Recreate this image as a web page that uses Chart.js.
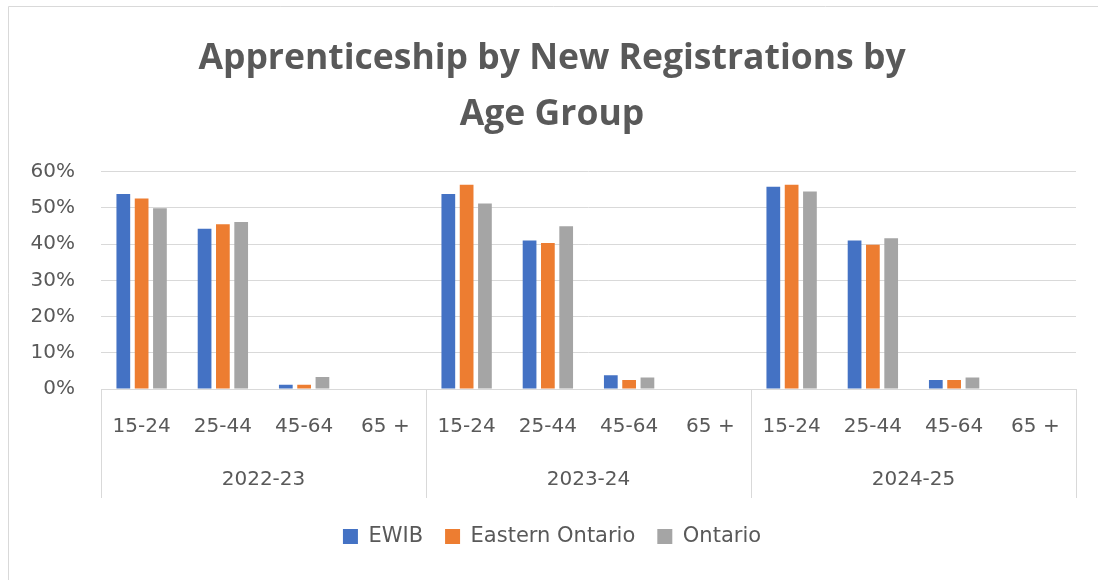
<!DOCTYPE html>
<html>
<head>
<meta charset="utf-8">
<script src="https://cdn.jsdelivr.net/npm/chart.js@4"></script>
<style>
  html, body { margin: 0; padding: 0; background: #fff; }
  #container { width: 1098px; height: 580px; }
</style>
</head>
<body>
<div id="container"><canvas id="chart" width="1098" height="580"></canvas></div>
<script>
"use strict";

const ageGroups = ['15-24', '25-44', '45-64', '65 +', '15-24', '25-44', '45-64', '65 +', '15-24', '25-44', '45-64', '65 +'];
const years = ['2022-23', '2023-24', '2024-25'];
const ewib = [53.8, 44.2, 1.2, 0, 53.8, 41.0, 3.8, 0, 55.8, 41.0, 2.5, 0];
const easternOntario = [52.6, 45.5, 1.2, 0, 56.4, 40.3, 2.5, 0, 56.4, 39.8, 2.5, 0];
const ontario = [49.9, 46.1, 3.3, 0, 51.2, 44.9, 3.2, 0, 54.5, 41.6, 3.2, 0];

const textColor = '#595959';
const lineColor = '#d9d9d9';
const axisFont = { family: '"DejaVu Sans", sans-serif', size: 20 };

// white background plus the outer chart frame
const framePlugin = {
  id: 'frame',
  beforeDraw(chart) {
    const ctx = chart.ctx;
    ctx.save();
    ctx.fillStyle = '#fff';
    ctx.fillRect(0, 0, chart.width, chart.height);
    ctx.strokeStyle = lineColor;
    ctx.lineWidth = 1;
    ctx.beginPath();
    ctx.moveTo(8.5, chart.height);
    ctx.lineTo(8.5, 6.5);
    ctx.lineTo(chart.width, 6.5);
    ctx.stroke();
    ctx.restore();
  }
};

// vertical separators between the year groups, below the plot
const groupLinesPlugin = {
  id: 'groupLines',
  afterDraw(chart) {
    const x = chart.scales.x;
    const half = (x.getPixelForTick(1) - x.getPixelForTick(0)) / 2;
    const top = chart.chartArea.bottom;
    const bottom = top + 109;
    const ctx = chart.ctx;
    ctx.save();
    ctx.strokeStyle = lineColor;
    ctx.lineWidth = 1;
    ctx.beginPath();
    for (let i = 0; i <= ageGroups.length; i += 4) {
      const px = i < ageGroups.length ? x.getPixelForTick(i) - half : x.getPixelForTick(i - 1) + half;
      const sx = Math.round(px) + 0.5;
      ctx.moveTo(sx, top);
      ctx.lineTo(sx, bottom);
    }
    ctx.stroke();
    ctx.restore();
  }
};

const makeDataset = (label, data, color) => ({
  label: label,
  data: data,
  backgroundColor: color,
  borderWidth: 0,
  categoryPercentage: 0.676,
  barPercentage: 0.75,
});

new Chart(document.getElementById('chart'), {
  type: 'bar',
  data: {
    labels: ageGroups,
    datasets: [
      makeDataset('EWIB', ewib, '#4472c4'),
      makeDataset('Eastern Ontario', easternOntario, '#ed7d31'),
      makeDataset('Ontario', ontario, '#a5a5a5'),
    ],
  },
  options: {
    responsive: false,
    animation: false,
    layout: { padding: { left: 28, right: 22, top: 0, bottom: 23 } },
    scales: {
      y: {
        min: 0,
        max: 60,
        border: { display: false },
        grid: { color: lineColor, drawTicks: false },
        ticks: {
          stepSize: 10,
          padding: 26,
          color: textColor,
          font: axisFont,
          callback: v => v + '%',
        },
        afterFit: scale => { scale.width = 73; },
      },
      x: {
        border: { color: lineColor },
        grid: { display: false, drawTicks: false },
        ticks: {
          padding: 26,
          color: textColor,
          maxRotation: 0,
          autoSkip: false,
          font: axisFont,
        },
        afterFit: scale => { scale.height = 64; },
      },
      x2: {
        type: 'category',
        position: 'bottom',
        labels: years,
        offset: true,
        border: { display: false },
        grid: { display: false, drawTicks: false },
        ticks: {
          padding: 15,
          color: textColor,
          maxRotation: 0,
          font: axisFont,
        },
        afterFit: scale => { scale.height = 51; },
      },
    },
    plugins: {
      title: {
        display: true,
        text: ['Apprenticeship by New Registrations by', 'Age Group'],
        color: textColor,
        font: { family: '"Open Sans", sans-serif', size: 35.5, weight: 'bold', lineHeight: 1.6 },
        padding: { top: 30, bottom: 28 },
      },
      legend: {
        position: 'bottom',
        labels: {
          color: textColor,
          font: { family: '"DejaVu Sans", sans-serif', size: 21 },
          boxWidth: 15,
          boxHeight: 15,
          padding: 22,
        },
      },
      tooltip: { enabled: false },
    },
  },
  plugins: [framePlugin, groupLinesPlugin],
});
</script>
</body>
</html>
